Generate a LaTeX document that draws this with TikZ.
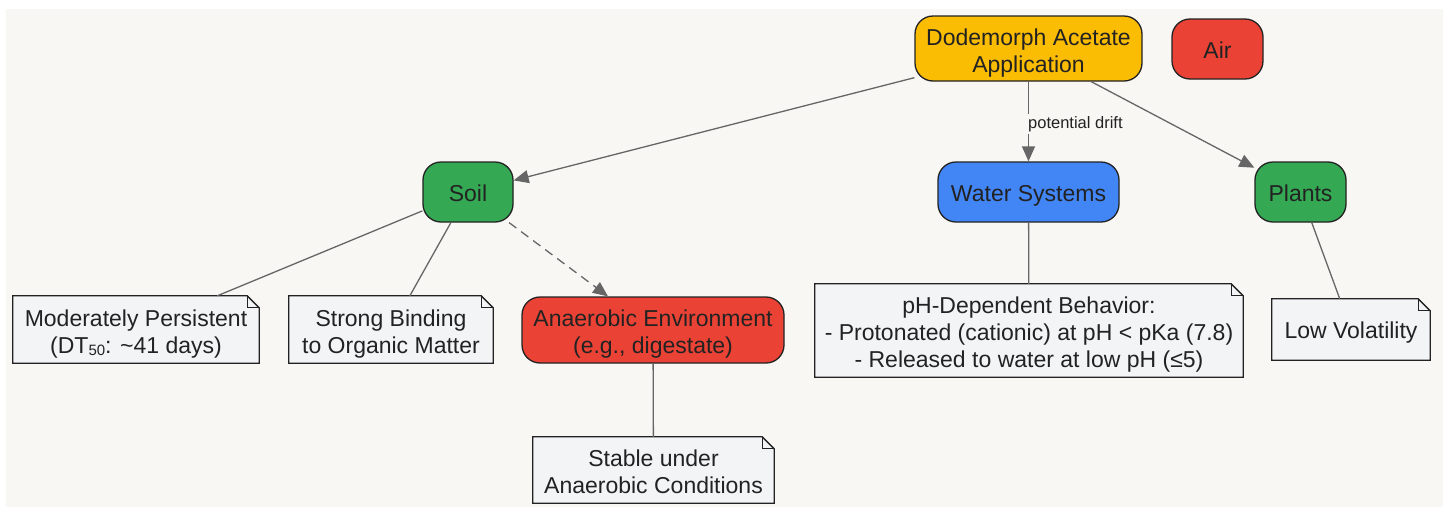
\documentclass[tikz,border=0pt]{standalone}
\usepackage{fontspec}
\setmainfont{Liberation Sans}
\usetikzlibrary{arrows.meta, backgrounds}
\definecolor{canvas}{HTML}{F8F7F3}
\definecolor{inkdark}{HTML}{222222}
\definecolor{linkgray}{HTML}{666666}
\definecolor{notefill}{HTML}{F3F4F6}
\definecolor{appyellow}{HTML}{FBBC04}
\definecolor{airred}{HTML}{EA4335}
\definecolor{soilgreen}{HTML}{34A853}
\definecolor{waterblue}{HTML}{4285F4}
\newcommand{\foldsize}{12pt}
\newcommand{\subdt}[1]{\raisebox{-0.15ex}{\fontsize{15}{15}\selectfont #1}}

\begin{document}
\begin{tikzpicture}[x=1pt, y=-1pt,
	every node/.style={text=inkdark, font=\fontsize{23}{27}\selectfont, align=center, inner sep=0pt,
		text height=23.5pt, text depth=5pt},
	twolines/.style={text height=52.5pt},
	threelines/.style={text height=78pt},
	box/.style={draw=inkdark, line width=1.3pt, rounded corners=18pt},
	note/.style={},
	notebox/.style={draw=inkdark, fill=notefill, line width=1.3pt},
	link/.style={draw=linkgray, line width=1.3pt},
	arrow/.style={link, -{Triangle[length=15pt, width=13pt]}},
	elabel/.style={font=\fontsize{16.5}{18}\selectfont, fill=canvas, inner sep=2pt,
		text height=12pt, text depth=3.5pt}]
	\useasboundingbox (0,0) rectangle (1443,507);
	% top row
	\node[box, twolines, fill=appyellow, minimum width=227pt, minimum height=65pt] (app) at (1028.5,48.5) {Dodemorph Acetate\\Application};
	\node[box, fill=airred, minimum width=91pt, minimum height=60pt] (air) at (1217.5,49) {Air};
	% compartments
	\node[box, fill=soilgreen, minimum width=90pt, minimum height=60pt] (soil) at (468,192) {Soil};
	\node[box, fill=waterblue, minimum width=181pt, minimum height=60pt] (water) at (1028.5,192) {Water Systems};
	\node[box, fill=soilgreen, minimum width=91pt, minimum height=60pt] (plants) at (1300.5,192) {Plants};
	% notes and sub nodes
	\node[note, twolines, minimum width=246pt, minimum height=67pt] (persist) at (136,329.5) {Moderately Persistent\\(DT\subdt{50}: \textasciitilde41 days)};
	\node[note, twolines, minimum width=204pt, minimum height=67pt] (binding) at (391,329.5) {Strong Binding\\to Organic Matter};
	\node[box, twolines, fill=airred, minimum width=262pt, minimum height=66pt] (anaer) at (653,330) {Anaerobic Environment\\(e.g., digestate)};
	\node[note, threelines, minimum width=428pt, minimum height=93pt] (phnote) at (1029,330.5) {pH-Dependent Behavior:\\- Protonated (cationic) at pH < pKa (7.8)\\- Released to water at low pH (≤5)};
	\node[note, minimum width=158pt, minimum height=61pt] (volat) at (1351,329.5) {Low Volatility};
	\node[note, twolines, minimum width=241pt, minimum height=66pt] (stable) at (653.5,470) {Stable under\\Anaerobic Conditions};
	% connectors
	\draw[arrow] (app) -- (soil);
	\draw[arrow] (app) -- node[elabel, anchor=west, xshift=-3pt, yshift=-2.5pt] {potential drift} (water);
	\draw[arrow] (app) -- (plants);
	\draw[link] (soil) -- (persist);
	\draw[link] (soil) -- (binding);
	\draw[arrow, dash pattern=on 9pt off 6pt] (soil) -- (anaer);
	\draw[link] (water) -- (phnote);
	\draw[link] (plants) -- (volat);
	\draw[link] (anaer) -- (stable);
	% canvas and note outlines
	\begin{scope}[on background layer]
		\fill[canvas] (6,9) rectangle (1443,507);
		\foreach \n in {persist,binding,phnote,volat,stable}{
			\filldraw[notebox] (\n.south west) -- (\n.north west) -- ([xshift=-\foldsize]\n.north east) -- ([yshift=-\foldsize]\n.north east) -- (\n.south east) -- cycle;
			\draw[notebox, fill=none] ([xshift=-\foldsize]\n.north east) |- ([yshift=-\foldsize]\n.north east);
		}
	\end{scope}
\end{tikzpicture}
\end{document}
